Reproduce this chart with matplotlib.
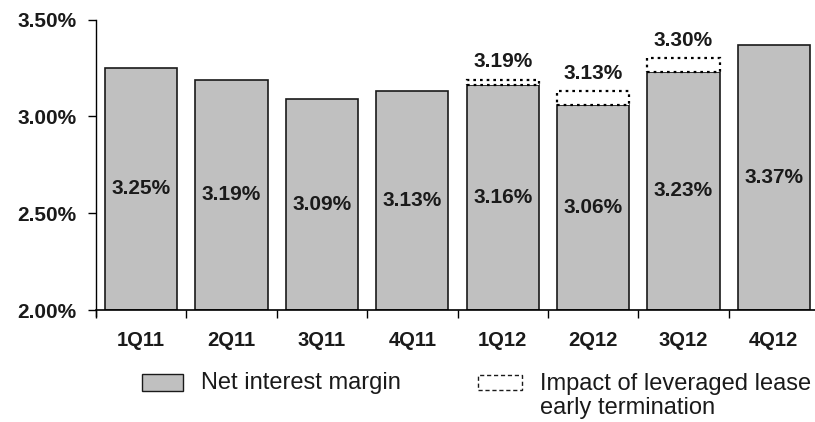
import matplotlib
matplotlib.use("Agg")
import matplotlib.pyplot as plt
from matplotlib.patches import Rectangle
import numpy as np

plt.rcParams['font.family'] = ['Liberation Sans', 'DejaVu Sans']

quarters = ["1Q11", "2Q11", "3Q11", "4Q11", "1Q12", "2Q12", "3Q12", "4Q12"]
nim = [3.25, 3.19, 3.09, 3.13, 3.16, 3.06, 3.23, 3.37]
# NIM including impact of leveraged lease early termination (None = no impact)
nim_incl = [None, None, None, None, 3.19, 3.13, 3.30, None]
yticks = [2.00, 2.50, 3.00, 3.50]
ytick_labels = ["2.00%", "2.50%", "3.00%", "3.50%"]

fig = plt.figure(figsize=(8.15, 4.22), dpi=100)
ax = fig.add_axes([96/815, 1-310/422, 723/815, (310-19.5)/422])

base = 2.0
x = np.arange(len(quarters))
ax.bar(x, [v - base for v in nim], bottom=base, width=0.8,
       color="#C0C0C0", edgecolor="#1a1a1a", linewidth=1.2, zorder=2)

for i, (v, t) in enumerate(zip(nim, nim_incl)):
    ax.text(i, (v + base) / 2, f"{v:.2f}%", ha="center", va="center",
            fontsize=15, fontweight="bold", color="#1a1a1a", zorder=4)
    if t is not None:
        ax.bar(i, t - v, bottom=v, width=0.8, facecolor="white",
               edgecolor="black", linewidth=1.6, linestyle=(0, (1.2, 1.8)), zorder=3)
        ax.annotate(f"{t:.2f}%", (i, t), xytext=(0, 6), textcoords="offset points",
                    ha="center", va="bottom", fontsize=15, fontweight="bold",
                    color="#1a1a1a")

ax.set_xlim(-0.5, len(quarters) - 0.5)
ax.set_ylim(2.0, 3.5)
ax.set_yticks(yticks)
ax.set_yticklabels(ytick_labels, fontsize=15, fontweight="bold", color="#1a1a1a")
ax.set_xticks(x)
ax.set_xticklabels(quarters, fontsize=14.5, fontweight="bold", color="#1a1a1a")
ax.set_xticks(np.arange(-0.5, len(quarters), 1.0), minor=True)
ax.tick_params(axis="x", which="major", length=0, pad=15)
ax.tick_params(axis="x", which="minor", length=6, width=1.0, direction="out")
ax.tick_params(axis="y", length=6, width=1.0, direction="out", pad=8)
for s in ["top", "right"]:
    ax.spines[s].set_visible(False)
ax.spines["left"].set_linewidth(1.0)
ax.spines["bottom"].set_linewidth(1.2)
ax.spines["left"].set_bounds(1.97, 3.5)

# legend (manual)
fig.add_artist(Rectangle((142/815, 1-391/422), 41/815, 17/422,
                         transform=fig.transFigure, facecolor="#C0C0C0",
                         edgecolor="#1a1a1a", linewidth=1.0))
fig.text(201/815, 1-383/422, "Net interest margin", fontsize=17,
         va="center", ha="left", color="#1a1a1a")
fig.add_artist(Rectangle((478/815, 1-390/422), 44/815, 15/422,
                         transform=fig.transFigure, facecolor="white",
                         edgecolor="#1a1a1a", linewidth=1.0, linestyle=(0, (3, 2))))
fig.text(540/815, 1-384/422, "Impact of leveraged lease", fontsize=17,
         va="center", ha="left", color="#1a1a1a")
fig.text(540/815, 1-408/422, "early termination", fontsize=17,
         va="center", ha="left", color="#1a1a1a")

fig.savefig("out.png", dpi=100)
